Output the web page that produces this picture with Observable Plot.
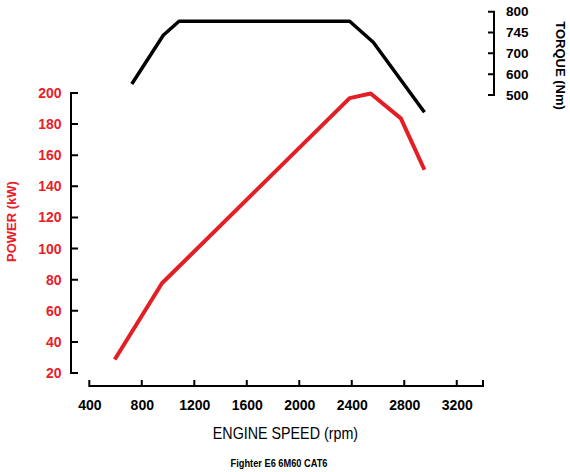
<!DOCTYPE html>
<html>
<head>
<meta charset="utf-8">
<script src="https://cdn.jsdelivr.net/npm/d3@7"></script>
<script src="https://cdn.jsdelivr.net/npm/@observablehq/plot@0.6"></script>
<style>
  body { margin: 0; background: #fff; }
  #wrap { position: relative; width: 570px; height: 472px; font-family: "Liberation Sans", Arial, sans-serif; color: #000; }
  #wrap svg { display: block; }
  .xlabel { position: absolute; left: 0; width: 570px; top: 424.6px; font-size: 17px; line-height: 17px; text-align: center; white-space: nowrap; }
  .xlabel span { display: inline-block; transform: scaleX(0.84); }
  .caption { position: absolute; left: -6px; width: 570px; top: 458.4px; font-size: 10.5px; line-height: 10.5px; font-weight: bold; text-align: center; white-space: nowrap; }
  .caption span { display: inline-block; transform: scaleX(0.88); }
</style>
</head>
<body>
<div id="wrap"></div>
<script>
// ---- data ----
const rpmTicks = [400, 800, 1200, 1600, 2000, 2400, 2800, 3200];
const powerTicks = [20, 40, 60, 80, 100, 120, 140, 160, 180, 200];
const torqueTicks = [500, 600, 700, 745, 800];

const powerRpm = [590, 950, 2380, 2540, 2770, 2950];
const powerKw  = [29, 78, 197, 200, 184, 151];

const torqueRpm = [720, 960, 1080, 2380, 2560, 2950];
const torqueNm  = [555, 740, 776, 776, 725, 420];

const xLabel = "ENGINE SPEED (rpm)";
const powerLabel = "POWER (kW)";
const torqueLabel = "TORQUE (Nm)";
const caption = "Fighter E6 6M60 CAT6";

// ---- layout / style ----
const RED = "#e31e25";
const RED_TEXT = "#e8202a";
const FONT = "Liberation Sans, Arial, sans-serif";
const X_END = 3400;
// the torque axis (evenly spaced ticks) sits on the power scale between these levels
const TORQUE_AXIS_LO = 198.7, TORQUE_AXIS_HI = 252.3;
const torquePos = torqueTicks.map((t, i) => TORQUE_AXIS_LO + i * (TORQUE_AXIS_HI - TORQUE_AXIS_LO) / (torqueTicks.length - 1));
const torqueToY = d3.scaleLinear().domain(torqueTicks).range(torquePos);
const torqueLabelByPos = new Map(torquePos.map((p, i) => [p, String(torqueTicks[i])]));

const powerData = powerRpm.map((r, i) => ({rpm: r, kw: powerKw[i]}));
const torqueData = torqueRpm.map((r, i) => ({rpm: r, nm: torqueNm[i]}));

// axis lines and inward ticks, drawn with the plot's scales
function axisLines(index, scales, values, dims) {
  const {x, y} = scales;
  const L = dims.marginLeft, R = dims.width - dims.marginRight, B = dims.height - dims.marginBottom;
  const g = d3.create("svg:g").attr("fill", "none").attr("stroke", "#000").attr("stroke-width", 2).attr("stroke-linecap", "square");
  // power axis (left)
  let d = `M${L},${y(powerTicks[0])}V${y(powerTicks[powerTicks.length - 1])}`;
  for (const t of powerTicks) d += `M${L},${y(t)}h6`;
  // rpm axis (bottom)
  d += `M${x(rpmTicks[0])},${B}H${x(X_END)}`;
  for (const t of [...rpmTicks, X_END]) d += `M${x(t)},${B}v-5`;
  // torque axis (right)
  d += `M${R},${y(torquePos[0])}V${y(torquePos[torquePos.length - 1])}`;
  for (const p of torquePos) d += `M${R},${y(p)}h-5`;
  g.append("path").attr("d", d);
  return g.node();
}

const chart = Plot.plot({
  width: 570,
  height: 415,
  marginLeft: 71,
  marginRight: 76,
  marginTop: 0,
  marginBottom: 29,
  style: {fontFamily: FONT, background: "transparent", overflow: "visible"},
  x: {domain: [400, X_END], range: [89.3, 483], axis: null},
  y: {domain: [20, 200], range: [373, 93], axis: null},
  marks: [
    axisLines,
    Plot.axisX(rpmTicks, {anchor: "bottom", tickSize: 0, tickPadding: 14, fontSize: 14, fontWeight: "bold", fill: "#000", label: null, tickFormat: (d) => String(d)}),
    Plot.axisY(powerTicks, {anchor: "left", tickSize: 0, tickPadding: 10, fontSize: 14, fontWeight: "bold", fill: RED_TEXT, label: null, tickFormat: (d) => String(d)}),
    Plot.axisY(torquePos, {anchor: "right", tickSize: 0, tickPadding: 11.5, fontSize: 13.5, fontWeight: "bold", fill: "#000", label: null, tickFormat: (p) => torqueLabelByPos.get(p)}),
    Plot.line(torqueData, {x: "rpm", y: (d) => torqueToY(d.nm), stroke: "#000", strokeWidth: 3.5, strokeLinejoin: "round", strokeLinecap: "butt"}),
    Plot.line(powerData, {x: "rpm", y: "kw", stroke: RED, strokeWidth: 4, strokeLinejoin: "round", strokeLinecap: "butt"}),
    Plot.text([powerLabel], {frameAnchor: "left", rotate: -90, dx: -59.5, dy: 28, fill: RED_TEXT, fontSize: 13, fontWeight: "bold", textAnchor: "middle", lineAnchor: "middle"}),
    Plot.text([torqueLabel], {frameAnchor: "top-right", rotate: 90, dx: 66, dy: 65, fill: "#000", fontSize: 13, fontWeight: "bold", textAnchor: "middle", lineAnchor: "middle"})
  ]
});

const wrap = document.getElementById("wrap");
wrap.appendChild(chart);
const xl = document.createElement("div");
xl.className = "xlabel";
xl.innerHTML = `<span>${xLabel}</span>`;
wrap.appendChild(xl);
const cap = document.createElement("div");
cap.className = "caption";
cap.innerHTML = `<span>${caption}</span>`;
wrap.appendChild(cap);
</script>
</body>
</html>
